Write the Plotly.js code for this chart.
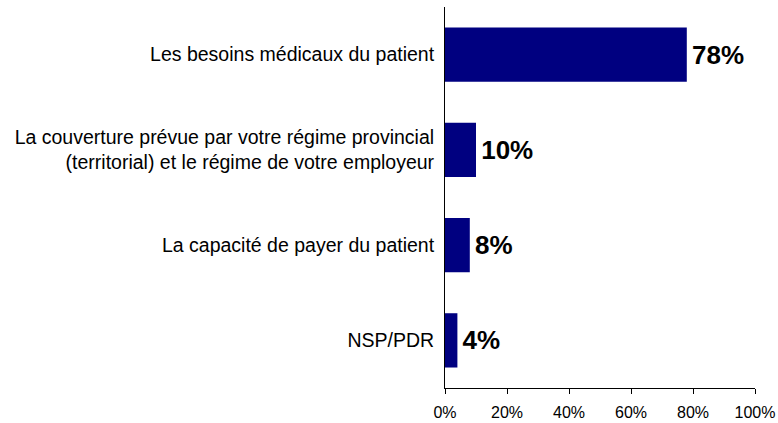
<!DOCTYPE html>
<html>
<head>
<meta charset="utf-8">
<script src="https://cdn.plot.ly/plotly-3.0.1.min.js"></script>
<style>
  html, body { margin: 0; padding: 0; background: #fff; }
  #chart { width: 778px; height: 423px; }
</style>
</head>
<body>
<div id="chart"></div>
<script>
var categories = [
    'Les besoins médicaux du patient',
    'La couverture prévue par votre régime provincial<br>(territorial) et le régime de votre employeur',
    'La capacité de payer du patient',
    'NSP/PDR'
];
var values = [78, 10, 8, 4];
var valueLabels = ['78%', '10%', '8%', '4%'];

var trace = {
    type: 'bar',
    orientation: 'h',
    x: values,
    y: categories,
    text: valueLabels,
    texttemplate: '\u200a%{text}',
    textposition: 'outside',
    cliponaxis: false,
    textfont: { family: 'Liberation Sans, Arial, sans-serif', size: 26, color: '#000', weight: 'bold' },
    marker: { color: '#000080' },
    hoverinfo: 'none'
};

var layout = {
    width: 778,
    height: 423,
    margin: { l: 445, r: 23, t: 7, b: 35 },
    paper_bgcolor: '#fff',
    plot_bgcolor: '#fff',
    showlegend: false,
    bargap: 0.43,
    font: { family: 'Liberation Sans, Arial, sans-serif', color: '#000' },
    xaxis: {
        range: [0, 100],
        dtick: 20,
        ticksuffix: '%',
        showgrid: false,
        zeroline: false,
        showline: true,
        linecolor: '#000',
        linewidth: 1,
        ticks: 'outside',
        ticklen: 5,
        tickcolor: '#000',
        ticklabelstandoff: 5,
        tickfont: { size: 16 },
        fixedrange: true
    },
    yaxis: {
        autorange: 'reversed',
        showgrid: false,
        zeroline: false,
        showline: true,
        linecolor: '#000',
        linewidth: 1,
        ticks: '',
        ticklabelstandoff: 6,
        tickfont: { size: 19.5 },
        fixedrange: true
    }
};

Plotly.newPlot('chart', [trace], layout, { displayModeBar: false, staticPlot: true });
</script>
</body>
</html>
